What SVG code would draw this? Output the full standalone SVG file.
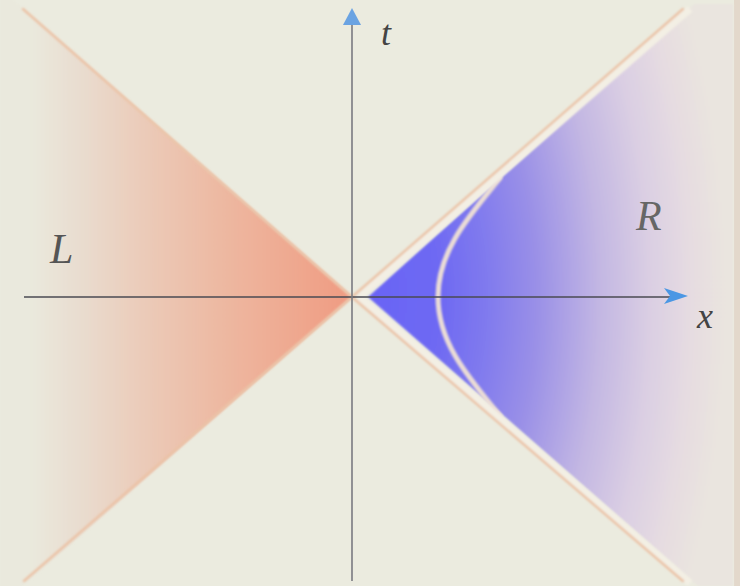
<svg xmlns="http://www.w3.org/2000/svg" width="740" height="586" viewBox="0 0 740 586">
  <defs>
    <style>
      .cone { stroke: #ebc2a6; stroke-width: 2.4; fill: none; stroke-linecap: round; }
      .halo { stroke: #f3efe4; stroke-width: 7; fill: none; }
      .axis { stroke: #4a4a52; stroke-width: 1.6; fill: none; }
      .vaxis { stroke: #7a7a80; stroke-width: 1.6; fill: none; }
      .arrow { fill: #4b97e4; }
      .lbl { font-family: "Liberation Serif", "DejaVu Serif", serif; font-style: italic; }
    </style>
    <linearGradient id="gradL" gradientUnits="userSpaceOnUse" x1="30" y1="0" x2="352" y2="0">
      <stop offset="0" stop-color="#eae9dd"/>
      <stop offset="0.15" stop-color="#e9ddd0"/>
      <stop offset="0.35" stop-color="#ebcbb9"/>
      <stop offset="0.6" stop-color="#edb8a1"/>
      <stop offset="0.85" stop-color="#efa68d"/>
      <stop offset="1" stop-color="#f09b82"/>
    </linearGradient>
    <radialGradient id="gradR" gradientUnits="userSpaceOnUse" cx="368" cy="297" r="360" gradientTransform="translate(368 297) scale(1 1.8) translate(-368 -297)">
      <stop offset="0" stop-color="#6a64f5"/>
      <stop offset="0.2" stop-color="#6e69f3"/>
      <stop offset="0.33" stop-color="#807aee"/>
      <stop offset="0.47" stop-color="#9a90e7"/>
      <stop offset="0.64" stop-color="#c2b6e3"/>
      <stop offset="0.78" stop-color="#dacee3"/>
      <stop offset="0.9" stop-color="#e6dce1"/>
      <stop offset="1" stop-color="#eae5df"/>
    </radialGradient>
    <filter id="soft" x="-5%" y="-5%" width="110%" height="110%">
      <feGaussianBlur stdDeviation="1.3"/>
    </filter>
  </defs>

  <g id="background">
    <rect x="0" y="0" width="740" height="586" fill="#ebebdf"/>
    <rect x="734" y="0" width="6" height="586" fill="#e3d8cb"/>
  </g>

  <g id="region-L" filter="url(#soft)">
    <polygon points="0,-12 352,297 0,606" fill="url(#gradL)"/>
  </g>

  <g id="region-R" filter="url(#soft)">
    <polygon points="368,297 694,4 733,4 733,586 698,586" fill="url(#gradR)"/>
  </g>

  <g id="hyperbola" filter="url(#soft)">
    <path d="M500,178 C470,215 438,250 438,297 C438,344 470,379 500,416" fill="none" stroke="#eadcd6" stroke-width="5" stroke-linecap="round"/>
  </g>

  <g id="light-cone" filter="url(#soft)">
    <line class="halo" x1="359" y1="297" x2="690" y2="9"/>
    <line class="halo" x1="359" y1="297" x2="690" y2="583"/>
    <line class="cone" x1="23" y1="9" x2="352" y2="297"/>
    <line class="cone" x1="24" y1="581" x2="352" y2="297"/>
    <line class="cone" x1="352" y1="297" x2="683" y2="9"/>
    <line class="cone" x1="352" y1="297" x2="683" y2="581"/>
  </g>

  <g id="axes">
    <line class="axis" x1="24" y1="297" x2="672" y2="297"/>
    <line class="vaxis" x1="352" y1="581" x2="352" y2="22"/>
    <polygon class="arrow" points="688,296 664,288 670,296 664,304"/>
    <polygon points="352,8 343,25 361,25" style="fill:#6aa3e2"/>
  </g>

  <g id="labels">
    <text class="lbl" x="381" y="45" font-size="36" fill="#444">t</text>
    <text class="lbl" x="697" y="328" font-size="36" fill="#444">x</text>
    <text class="lbl" x="50" y="263" font-size="42" fill="#555">L</text>
    <text class="lbl" x="636" y="230" font-size="42" fill="#666">R</text>
  </g>
</svg>
